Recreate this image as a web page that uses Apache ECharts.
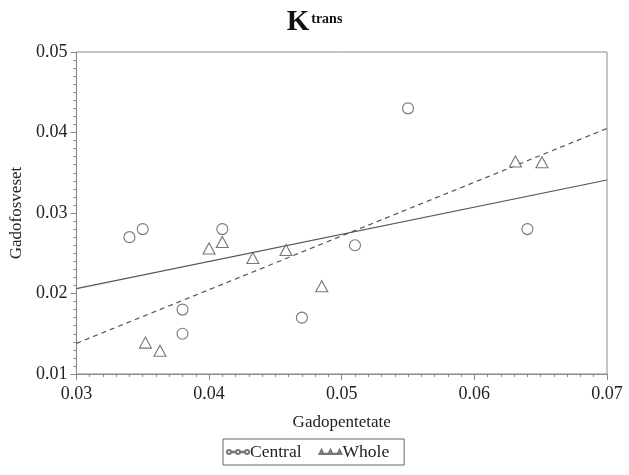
<!DOCTYPE html>
<html>
<head>
<meta charset="utf-8">
<script src="https://cdn.jsdelivr.net/npm/echarts@6/dist/echarts.min.js"></script>
<style>html,body{margin:0;padding:0;background:#fff;}#c{width:629px;height:475px;}</style>
</head>
<body>
<div id="c"></div>
<script>
// Central (circles)
const centralX = [0.034, 0.035, 0.041, 0.038, 0.038, 0.047, 0.051, 0.055, 0.064];
const centralY = [0.027, 0.028, 0.028, 0.018, 0.015, 0.017, 0.026, 0.043, 0.028];
// Whole (triangles)
const wholeX = [0.0352, 0.0363, 0.0400, 0.0410, 0.0433, 0.0458, 0.0485, 0.0631, 0.0651];
const wholeY = [0.0139, 0.0129, 0.0256, 0.0264, 0.0244, 0.0254, 0.0209, 0.0364, 0.0363];
// Fitted lines (read endpoints at x = 0.03 and 0.07)
const fitX = [0.03, 0.07];
const centralFitY = [0.0206, 0.0341];
const wholeFitY = [0.0138, 0.0405];
const xTicks = [0.03, 0.04, 0.05, 0.06, 0.07];
const yTicks = [0.01, 0.02, 0.03, 0.04, 0.05];

const FONT = '"Liberation Serif", "Times New Roman", serif';
const GRAY = '#555';
const AX = '#8a8a8a';
const zip = (a, b) => a.map((v, i) => [v, b[i]]);

const chart = echarts.init(document.getElementById('c'), null, {renderer: 'canvas'});
const circleIcon = 'path://M0,4a2,2 0 1,0 4,0a2,2 0 1,0 -4,0ZM4,3.75H9V4.25H4ZM9,4a2,2 0 1,0 4,0a2,2 0 1,0 -4,0ZM13,3.75H18V4.25H13ZM18,4a2,2 0 1,0 4,0a2,2 0 1,0 -4,0Z';
const triIcon = 'path://M2,2L4,6H0ZM4,5.75H9V6H4ZM11,2L13,6H9ZM13,5.75H18V6H13ZM20,2L22,6H18Z';

const axisCommon = {
  axisLine: {show: true, lineStyle: {color: AX, width: 1}},
  axisTick: {show: true, length: 6, lineStyle: {color: AX}},
  minorTick: {show: true, splitNumber: 10, length: 3, lineStyle: {color: AX}},
  splitLine: {show: false},
  axisLabel: {fontFamily: FONT, fontSize: 18, color: '#222'},
  nameTextStyle: {fontFamily: FONT, fontSize: 17, color: '#222'},
  nameLocation: 'middle'
};

chart.setOption({
  animation: false,
  backgroundColor: '#fff',
  title: {
    text: '{k|K}{t|trans}',
    left: 'center',
    top: 3,
    textStyle: {
      rich: {
        k: {fontFamily: FONT, fontSize: 29, fontWeight: 'bold', color: '#111'},
        t: {fontFamily: FONT, fontSize: 14, fontWeight: 'bold', color: '#111', verticalAlign: 'top', padding: [4, 0, 0, 2]}
      }
    }
  },
  grid: {left: 71, right: 22, top: 52, bottom: 101, show: true, borderColor: AX, borderWidth: 1},
  xAxis: Object.assign({}, axisCommon, {
    type: 'value', min: 0.03, max: 0.07, interval: 0.01,
    name: 'Gadopentetate', nameGap: 40,
    axisLabel: Object.assign({}, axisCommon.axisLabel, {margin: 11, formatter: v => xTicks.includes(+v.toFixed(2)) ? v.toFixed(2) : ''})
  }),
  yAxis: Object.assign({}, axisCommon, {
    type: 'value', min: 0.01, max: 0.05, interval: 0.01,
    name: 'Gadofosveset', nameGap: 50,
    axisLabel: Object.assign({}, axisCommon.axisLabel, {margin: 9, formatter: v => yTicks.includes(+v.toFixed(2)) ? v.toFixed(2) : ''})
  }),
  legend: {
    data: [
      {name: 'Central', icon: circleIcon},
      {name: 'Whole', icon: triIcon}
    ],
    bottom: 10, left: 223,
    itemWidth: 22, itemHeight: 6, itemGap: 17,
    padding: [4, 15, 4, 3],
    borderColor: '#666', borderWidth: 1, borderRadius: 0,
    textStyle: {fontFamily: FONT, fontSize: 17.5, color: '#222', padding: [0, 0, 0, -4]}
  },
  series: [
    {
      name: 'Central fit', type: 'line', data: zip(fitX, centralFitY), symbol: 'none',
      lineStyle: {color: GRAY, width: 1.2, type: 'solid'}, silent: true, z: 1
    },
    {
      name: 'Whole fit', type: 'line', data: zip(fitX, wholeFitY), symbol: 'none',
      lineStyle: {color: GRAY, width: 1.2, type: [5, 4]}, silent: true, z: 1
    },
    {
      name: 'Central', type: 'scatter', data: zip(centralX, centralY),
      symbol: 'circle', symbolSize: 11,
      itemStyle: {color: '#fff', borderColor: GRAY, borderWidth: 1.1}, z: 3
    },
    {
      name: 'Whole', type: 'scatter', data: zip(wholeX, wholeY),
      symbol: 'triangle', symbolSize: [12, 11],
      itemStyle: {color: '#fff', borderColor: GRAY, borderWidth: 1.1}, z: 3
    }
  ]
});
</script>
</body>
</html>
